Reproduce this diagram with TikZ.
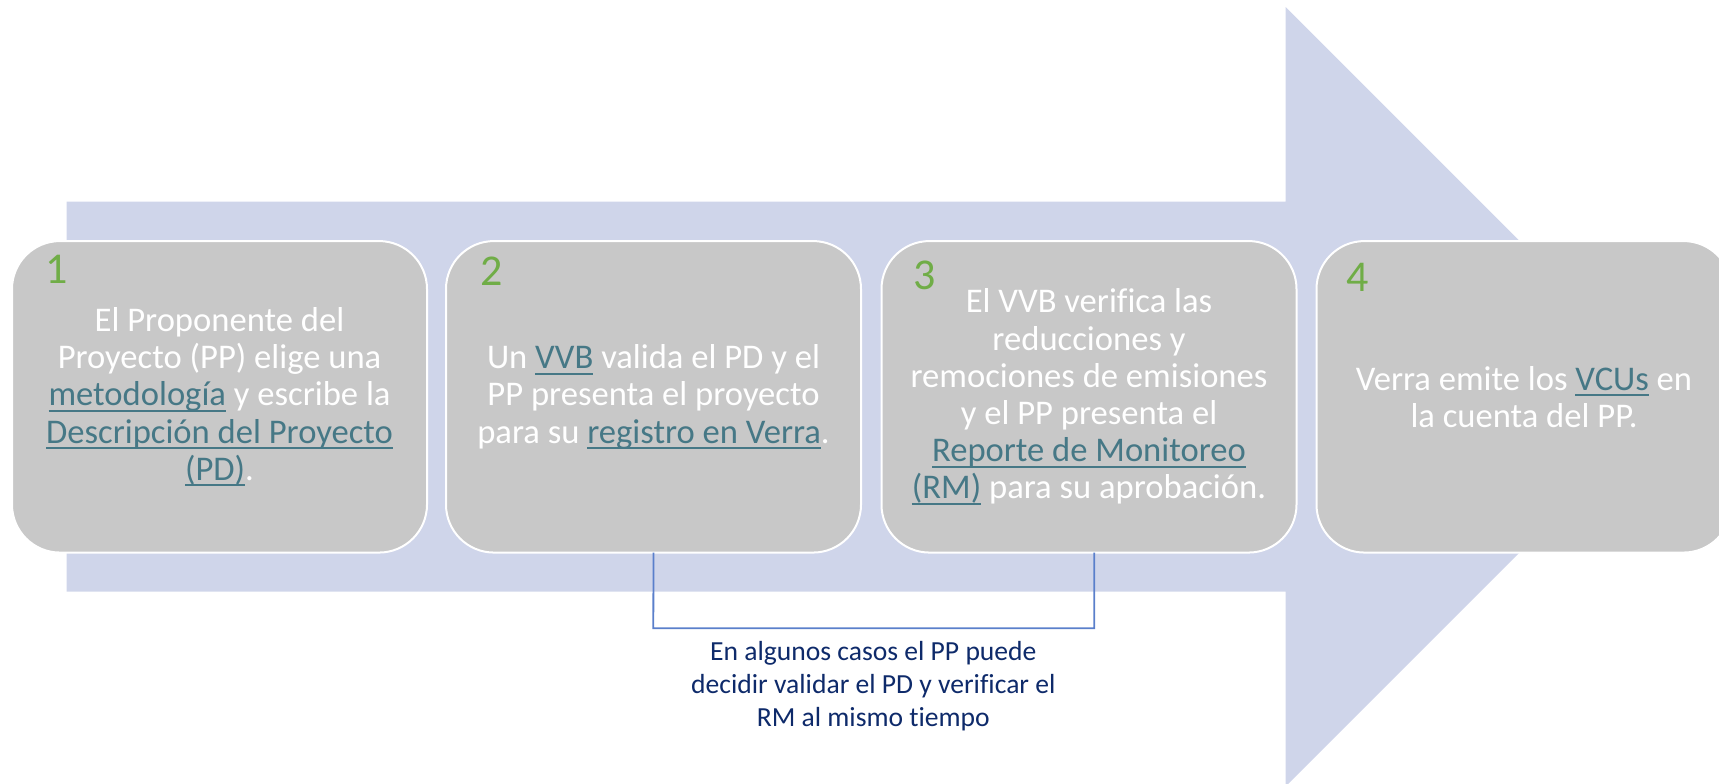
\documentclass[tikz,border=0pt]{standalone}
\usepackage{fontspec}
\setmainfont[Ligatures=NoCommon]{Carlito}
\usetikzlibrary{calc}
\definecolor{arrowc}{HTML}{CFD5EA}
\definecolor{boxc}{HTML}{C8C8C8}
\definecolor{linkc}{HTML}{467886}
\definecolor{numc}{HTML}{70AD47}
\definecolor{notec}{HTML}{0E2A6A}
\definecolor{bracketc}{HTML}{5A7FCB}
\newcommand\lk[1]{{\color{linkc}\setbox0\hbox{#1}\rlap{\rule[-3pt]{\wd0}{0.9pt}}\box0}}
\tikzset{
 stepbox/.style={rectangle, rounded corners=24pt, fill=boxc, draw=white, line width=1pt,
   minimum width=207.5pt, minimum height=155.75pt, inner sep=0pt, outer sep=0pt,
   align=center, text=white, font=\fontsize{17.3pt}{18.6pt}\selectfont},
 stepnum/.style={anchor=base west, inner sep=0pt, outer sep=0pt, text=numc, font=\fontsize{22pt}{26pt}\selectfont},
 notetext/.style={align=center, inner sep=0pt, text=notec, font=\fontsize{13.8pt}{16.5pt}\selectfont},
 bracket/.style={draw=bracketc, line width=0.9pt}
}
\begin{document}
\begin{tikzpicture}[x=0.5pt,y=-0.5pt]
\useasboundingbox (0,0) rectangle (1719,783);
\clip (0,0) rectangle (1719,783);
% big arrow
\fill[arrowc] (66.7,201.7) -- (1285.7,201.7) -- (1285.7,7) -- (1675.4,396.7)
  -- (1285.7,786.4) -- (1285.7,591.7) -- (66.7,591.7) -- cycle;
% boxes
\node[stepbox] (b1) at (219.5,396.8) {El Proponente del\\Proyecto (PP) elige una\\\lk{metodología} y escribe la\\\lk{Descripción del Proyecto}\\\lk{(PD)}.};
\node[stepbox] (b2) at (653.5,396.8) {Un \lk{VVB} valida el PD y el\\PP presenta el proyecto\\para su \lk{registro en Verra}.};
\node[stepbox] (b3) at (1089,396.8) {El VVB verifica las\\reducciones y\\remociones de emisiones\\y el PP presenta el\\\lk{Reporte de Monitoreo}\\\lk{(RM)} para su aprobación.};
\node[stepbox] (b4) at (1524,396.8) {Verra emite los \lk{VCUs} en\\la cuenta del PP.};
% numbers
\node[stepnum] (n1) at ($(b1.north west)+(33,42)$) {1};
\node[stepnum] (n2) at ($(b2.north west)+(34,44)$) {2};
\node[stepnum] (n3) at ($(b3.north west)+(32,48)$) {3};
\node[stepnum] (n4) at ($(b4.north west)+(30,50)$) {4};
% bracket and note
\coordinate (bl) at (653.3,628.3);
\coordinate (br) at (1094.3,628.3);
\draw[bracket] (b2.south) -- (bl) -- (br) -- (br |- b3.south);
\node[notetext, anchor=north] (note) at (873.3,641) {En algunos casos el PP puede\\decidir validar el PD y verificar el\\RM al mismo tiempo};
\end{tikzpicture}
\end{document}
